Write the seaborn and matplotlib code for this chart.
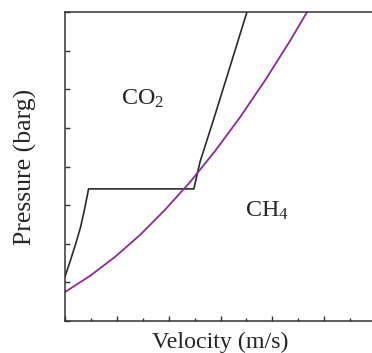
import matplotlib
matplotlib.use("Agg")
import matplotlib.pyplot as plt
import seaborn as sns
import pandas as pd
from matplotlib.ticker import MultipleLocator, NullFormatter

# CO2 curve (black)
co2_x = [0.0, 0.2, 0.4, 0.6, 0.75, 0.91, 4.97, 5.21, 5.73, 6.37, 7.02]
co2_y = [1.15, 1.55, 1.97, 2.43, 2.88, 3.42, 3.42, 4.12, 5.21, 6.59, 8.0]
# CH4 curve (purple)
ch4_x = [0.0, 0.97, 1.93, 2.90, 3.86, 4.83, 5.79, 6.76, 7.72, 8.69, 9.34]
ch4_y = [0.75, 1.17, 1.66, 2.23, 2.88, 3.60, 4.40, 5.28, 6.23, 7.26, 8.0]

sns.set_style("white")
plt.rcParams["font.family"] = ["Liberation Serif", "DejaVu Serif"]
plt.rcParams["mathtext.default"] = "regular"

fig = plt.figure(figsize=(3.72, 3.53), dpi=100)
ax = fig.add_axes([65/372, 32/353, 311/372, 309/353])

df_co2 = pd.DataFrame({"x": co2_x, "y": co2_y})
df_ch4 = pd.DataFrame({"x": ch4_x, "y": ch4_y})
sns.lineplot(data=df_co2, x="x", y="y", ax=ax, color="#2b2b2b", lw=1.2, sort=False)
sns.lineplot(data=df_ch4, x="x", y="y", ax=ax, color="#8e2a9c", lw=1.3, sort=False)

ax.set_xlim(0, 12)
ax.set_ylim(0, 8)
ax.xaxis.set_major_locator(MultipleLocator(2))
ax.xaxis.set_minor_locator(MultipleLocator(1))
ax.yaxis.set_major_locator(MultipleLocator(1))
ax.xaxis.set_major_formatter(NullFormatter())
ax.yaxis.set_major_formatter(NullFormatter())
ax.tick_params(axis="x", which="major", direction="in", length=3.5, width=1.0, color="#333333", bottom=True)
ax.tick_params(axis="x", which="minor", direction="in", length=2.2, width=1.0, color="#333333", bottom=True)
ax.tick_params(axis="y", which="major", direction="in", length=3.8, width=1.0, color="#333333", left=True)
for s in ax.spines.values():
    s.set_color("#333333")
    s.set_linewidth(1.1)

ax.set_xlabel("Velocity (m/s)", fontsize=17.3, labelpad=4)
ax.set_ylabel("Pressure (barg)", fontsize=18.5, labelpad=17)

ax.text(3.0, 5.74, "CO$_2$", fontsize=17.3, ha="center", va="center")
ax.text(7.8, 2.85, "CH$_4$", fontsize=17.3, ha="center", va="center")

fig.savefig("out.png", dpi=100)
